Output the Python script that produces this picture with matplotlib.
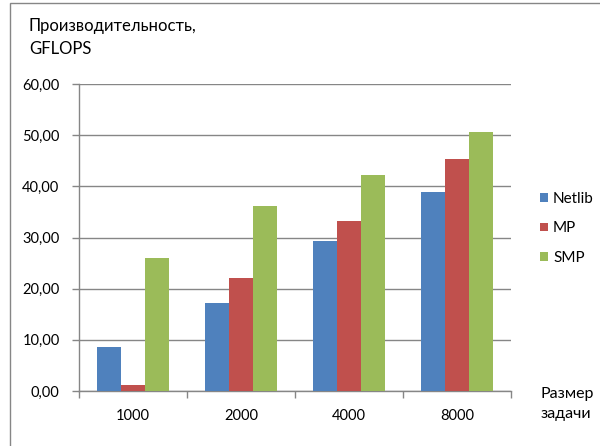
import matplotlib
matplotlib.use("Agg")
import matplotlib.pyplot as plt
import numpy as np
from matplotlib.ticker import FuncFormatter
from matplotlib.patches import Rectangle

plt.rcParams['font.family'] = ['Lato', 'DejaVu Sans']

categories = ["1000", "2000", "4000", "8000"]
series_names = ["Netlib", "MP", "SMP"]
netlib = [8.6, 17.2, 29.4, 38.9]
mp = [1.2, 22.0, 33.2, 45.4]
smp = [25.9, 36.1, 42.3, 50.6]
colors = ["#4F81BD", "#C0504D", "#9BBB59"]

fig = plt.figure(figsize=(6.0, 4.46), dpi=100)
ax = fig.add_axes([79 / 600, 55 / 446, 432 / 600, 307 / 446])

x = np.arange(len(categories))
width = 1 / 4.5
for i, (vals, name, c) in enumerate(zip([netlib, mp, smp], series_names, colors)):
    ax.bar(x + (i - 1) * width, vals, width, color=c, label=name, zorder=3)

ax.set_xlim(-0.5, len(categories) - 0.5)
ax.set_ylim(0, 60)
ax.set_yticks(np.arange(0, 61, 10))
ax.yaxis.set_major_formatter(FuncFormatter(lambda v, p: f"{v:.2f}".replace(".", ",")))
ax.set_xticks(x)
ax.set_xticklabels(categories)
ax.set_xticks(np.arange(-0.5, len(categories), 1), minor=True)
ax.tick_params(axis='x', which='major', length=0, pad=13, labelsize=10.5)
ax.tick_params(axis='x', which='minor', length=5, color="#868686", width=1)
ax.tick_params(axis='y', length=5, color="#868686", width=1, labelsize=10.5, pad=9)
ax.grid(axis='y', color="#868686", linewidth=1, zorder=0)
for s in ["top", "right"]:
    ax.spines[s].set_visible(False)
for s in ["left", "bottom"]:
    ax.spines[s].set_color("#868686")
    ax.spines[s].set_linewidth(1)

fig.text(29 / 600, 1 - 26 / 446, "Производительность,", fontsize=12, va="center", ha="left")
fig.text(29 / 600, 1 - 49 / 446, "GFLOPS", fontsize=12, va="center", ha="left")
fig.text(541 / 600, 1 - 394 / 446, "Размер", fontsize=11.5, va="center", ha="left")
fig.text(541 / 600, 1 - 414 / 446, "задачи", fontsize=11.5, va="center", ha="left")

leg = fig.legend(loc="upper left", bbox_to_anchor=(534 / 600, 1 - 186 / 446), frameon=False,
                 fontsize=11, handlelength=0.5, handleheight=0.5, handletextpad=0.35,
                 labelspacing=1.0, borderaxespad=0)

# chart frame
fig.patches.append(Rectangle((10 / 600, -0.01), 1.2, 1 - 3 / 446 + 0.01, transform=fig.transFigure,
                             fill=False, edgecolor="#868686", linewidth=1))

fig.savefig("out.png", dpi=100)
